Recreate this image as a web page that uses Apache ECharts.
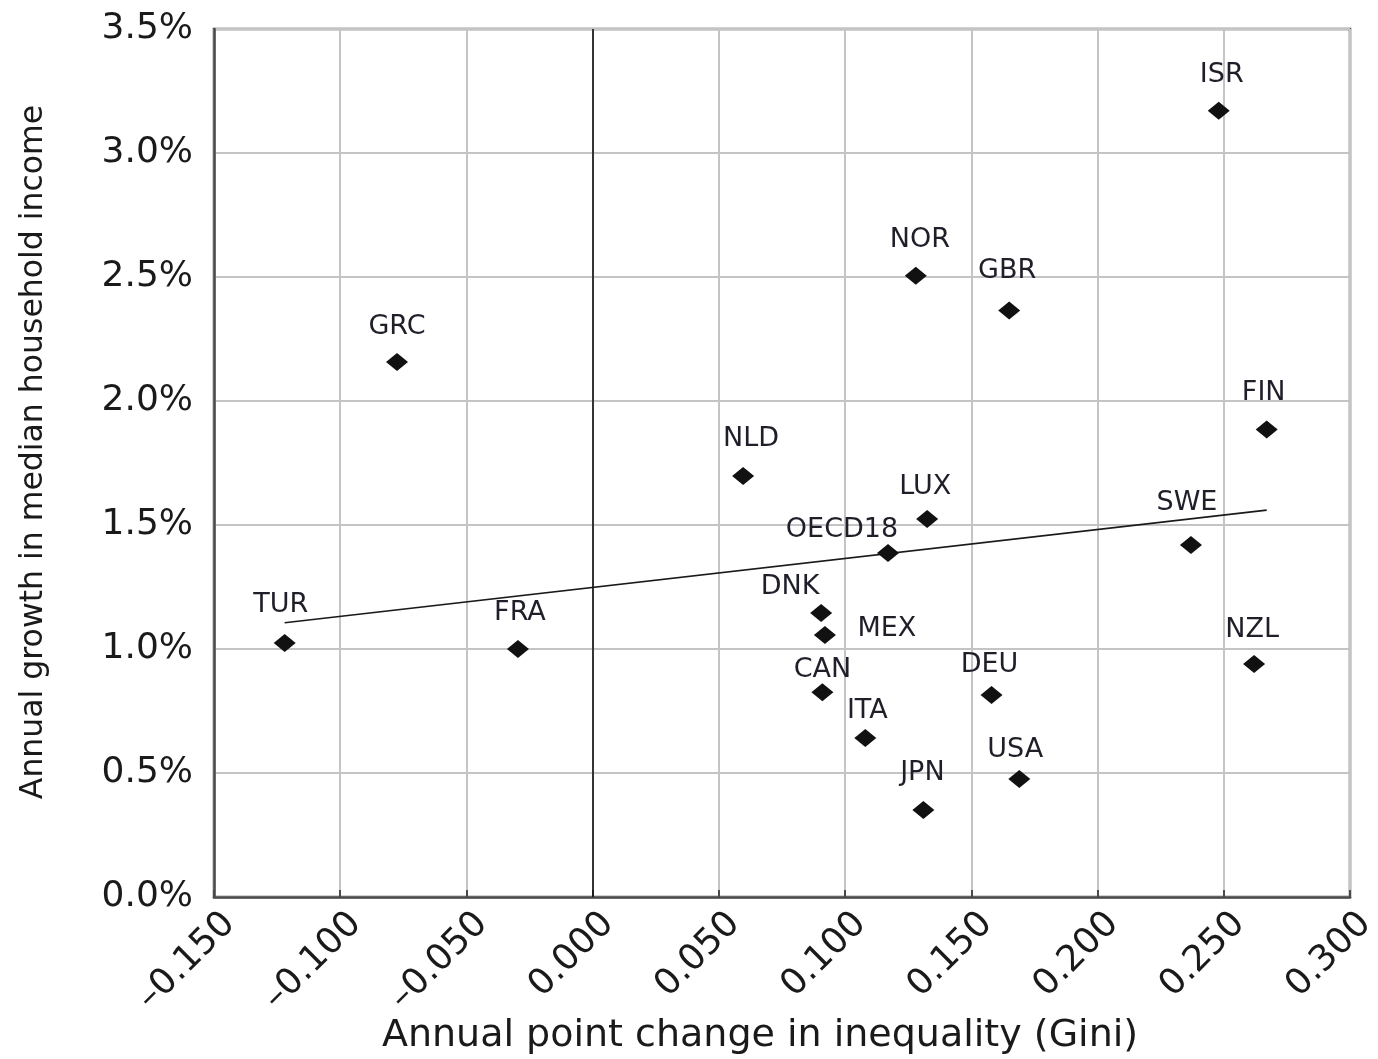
<!DOCTYPE html>
<html>
<head>
<meta charset="utf-8">
<script src="https://cdn.jsdelivr.net/npm/echarts@6/dist/echarts.min.js"></script>
<style>
html, body { margin: 0; padding: 0; background: #fff; }
#panel { width: 1378px; height: 1059px; }
</style>
</head>
<body>
<div id="panel"></div>
<script>
var countries = ['ISR', 'NOR', 'GBR', 'GRC', 'FIN', 'NLD', 'LUX', 'SWE', 'OECD18', 'DNK', 'MEX', 'TUR', 'FRA', 'NZL', 'CAN', 'DEU', 'ITA', 'USA', 'JPN'];
var giniChange = [0.248, 0.128, 0.165, -0.0775, 0.267, 0.0596, 0.1325, 0.237, 0.117, 0.0905, 0.092, -0.122, -0.0296, 0.262, 0.091, 0.158, 0.108, 0.169, 0.131];
var incomeGrowth = [3.17, 2.505, 2.365, 2.157, 1.885, 1.698, 1.524, 1.419, 1.387, 1.145, 1.056, 1.024, 1.0, 0.94, 0.826, 0.815, 0.641, 0.476, 0.351];
var trendX = [-0.122, 0.267];
var trendY = [1.106, 1.56];

// label offsets (px) from each marker centre
var labelOffset = {
    ISR: [3, -36], NOR: [4, -36], GBR: [-2, -39], GRC: [0, -35], FIN: [-3, -37],
    NLD: [8, -37], LUX: [-2, -32], SWE: [-4, -42], OECD18: [-46, -23], DNK: [-31, -26],
    MEX: [62, -6], TUR: [-4, -38], FRA: [2, -36], NZL: [-2, -34], CAN: [0, -22],
    DEU: [-2, -30], ITA: [2, -27], USA: [-4, -29], JPN: [-1, -37]
};

var font = 'DejaVu Sans';

var myChart;
function buildPoints()
{
    var pts = [];
    for (var i = 0; i < countries.length; i++)
    {
        pts.push({
            name: countries[i],
            value: [giniChange[i], incomeGrowth[i]],
            label: { offset: labelOffset[countries[i]] }
        });
    }
    return pts;
}

myChart = echarts.init(document.getElementById('panel'));
myChart.setOption({
    backgroundColor: '#fff',
    animation: false,
    grid: {
        left: 214, right: 28, top: 29, bottom: 162,
        outerBoundsMode: 'none',
        containLabel: false,
        show: true, borderColor: '#4a4a4a', borderWidth: 2.5
    },
    xAxis: {
        type: 'value',
        min: -0.15, max: 0.3, interval: 0.05,
        name: 'Annual point change in inequality (Gini)',
        nameLocation: 'middle',
        nameGap: 120,
        nameMoveOverlap: false,
        nameTextStyle: { fontFamily: font, fontSize: 38, color: '#1a1a1a', padding: [0, 44, 0, 0] },
        axisLine: { onZero: false, lineStyle: { color: '#4a4a4a', width: 2.5 } },
        axisTick: { inside: true, length: 7, lineStyle: { color: '#4a4a4a', width: 2 } },
        axisLabel: {
            rotate: 45, margin: 6, verticalAlign: 'top', lineHeight: 44,
            fontFamily: font, fontSize: 36, color: '#1a1a1a',
            formatter: function (v) { return v.toFixed(3).replace('-', '\u2013'); }
        },
        splitLine: { show: true, lineStyle: { color: '#c4c4c4', width: 2 } }
    },
    yAxis: {
        type: 'value',
        min: 0, max: 3.5, interval: 0.5,
        name: 'Annual growth in median household income',
        nameLocation: 'middle',
        nameGap: 164,
        nameMoveOverlap: false,
        nameTextStyle: { fontFamily: font, fontSize: 31.5, color: '#1a1a1a', padding: [0, 0, 0, 22] },
        axisLine: { onZero: false, lineStyle: { color: '#4a4a4a', width: 2.5 } },
        axisTick: { show: false },
        axisLabel: {
            margin: 21, fontFamily: font, fontSize: 36, color: '#1a1a1a',
            formatter: function (v) { return v.toFixed(1) + '%'; }
        },
        splitLine: { show: true, lineStyle: { color: '#c4c4c4', width: 2 } }
    },
    series: [
        {
            type: 'line',
            data: [[trendX[0], trendY[0]], [trendX[1], trendY[1]]],
            symbol: 'none',
            silent: true,
            lineStyle: { color: '#1a1a1a', width: 1.6 },
            markLine: {
                silent: true,
                symbol: 'none',
                label: { show: false },
                lineStyle: { color: '#111', width: 1.6, type: 'solid' },
                data: [{ xAxis: 0 }]
            },
            z: 3
        },
        {
            type: 'scatter',
            data: buildPoints(),
            symbol: 'diamond',
            symbolSize: [22, 18],
            itemStyle: { color: '#111', opacity: 1 },
            label: {
                show: true,
                position: 'inside',
                formatter: '{b}',
                fontFamily: font,
                fontSize: 27,
                color: '#1f1f2a'
            },
            z: 4
        }
    ]
});
</script>
</body>
</html>
